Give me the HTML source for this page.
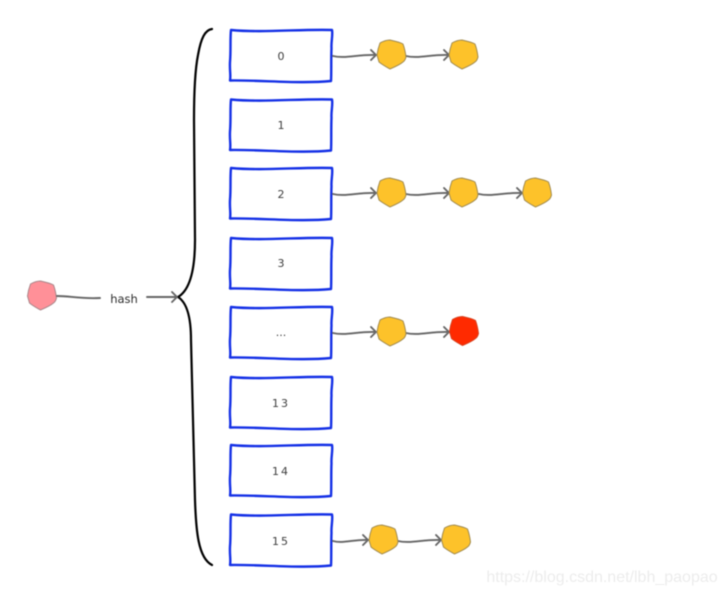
<!DOCTYPE html>
<html>
<head>
<meta charset="utf-8">
<style>
html,body{margin:0;padding:0;background:#fff;width:726px;height:594px;overflow:hidden}
svg{display:block;filter:blur(.4px)}
.b{fill:#fff;stroke:#1430e6;stroke-width:2.4;stroke-linejoin:round;stroke-linecap:round}
.l{fill:none;stroke:#666;stroke-width:1.900;stroke-linecap:round;stroke-linejoin:round}
.n{fill:#fdc22a;stroke:#a08a50;stroke-width:1;stroke-linejoin:round}
.t{font-family:"DejaVu Sans","Liberation Sans",sans-serif;font-size:11px;fill:#3c3c3c;text-anchor:middle}
</style>
</head>
<body>
<svg width="726" height="594" viewBox="0 0 726 594" xmlns="http://www.w3.org/2000/svg">
<defs>
<path id="box" d="M231 0 C262 3 300 -1 332 0 C333 5 331 12 331.500 18 C331 30 331.500 42 331 51 C300 54 262 50 230 50.500 C231 46 229.500 40 230 32 C231 20 230 8 231 0 Z"/>
<path id="arrow" d="M0 0 C12 3 26 -2 43 -1 M38 -6 L43 -1 L38 4"/>
<path id="arrow2" d="M0 0 C10 3 22 -2 35 -1 M30 -6 L35 -1 L30 4"/>
<path id="node" d="M-11.500 -12 C-8 -14 -4 -15 -1.500 -15 C3 -14 8 -13 11.500 -11 C13 -7 14 -2 14.500 2 C14 4 13 6 11.500 7 C8 10 3 12 -1.500 14 C-5 12 -9 10 -12.500 7 C-13 5 -14 2 -14.500 0 C-14 -4 -13 -8 -11.500 -12 Z"/>
</defs>

<use href="#box" class="b" y="30"/>
<use href="#box" class="b" y="99.500"/>
<use href="#box" class="b" y="168"/>
<use href="#box" class="b" y="238"/>
<use href="#box" class="b" y="307"/>
<use href="#box" class="b" y="377"/>
<use href="#box" class="b" y="445"/>
<use href="#box" class="b" y="514.500"/>

<text class="t" x="281" y="60">0</text>
<text class="t" x="281" y="129">1</text>
<text class="t" x="281" y="198">2</text>
<text class="t" x="281" y="267">3</text>
<text class="t" x="281" y="336">...</text>
<text class="t" x="281" y="407" letter-spacing="2">13</text>
<text class="t" x="281" y="475" letter-spacing="2">14</text>
<text class="t" x="281" y="545" letter-spacing="2">15</text>

<path d="M212 29 C205 30 201 38 198 55 C195 70 194 90 194 120 L195 240 C195 270 190 290 178 297 C186 302 191 315 191 340 L195 500 C196 530 198 558 212 565" fill="none" stroke="#000" stroke-width="2.200" stroke-linecap="round"/>

<use href="#arrow" class="l" x="333" y="56"/>
<use href="#arrow" class="l" x="406" y="56"/>
<use href="#node" class="n" x="391.500" y="55"/>
<use href="#node" class="n" x="463.500" y="55"/>

<use href="#arrow" class="l" x="333" y="194"/>
<use href="#arrow" class="l" x="406" y="194"/>
<use href="#arrow" class="l" x="479" y="194"/>
<use href="#node" class="n" x="391.500" y="193"/>
<use href="#node" class="n" x="463.500" y="193"/>
<use href="#node" class="n" x="537" y="193"/>

<use href="#arrow" class="l" x="333" y="333"/>
<use href="#arrow" class="l" x="406" y="333"/>
<use href="#node" class="n" x="391.500" y="332"/>
<use href="#node" x="464" y="331.500" fill="#ff2a00" stroke="#d8401c"/>

<use href="#arrow2" class="l" x="333" y="541"/>
<use href="#arrow" class="l" x="398" y="541"/>
<use href="#node" class="n" x="383.500" y="540"/>
<use href="#node" class="n" x="456" y="540"/>

<use href="#node" x="42" y="296" fill="#ff9098" stroke="#a8868a"/>
<path class="l" d="M57 296 C70 296 80 299 100 298"/>
<text x="124" y="303" font-family="'DejaVu Sans','Liberation Sans',sans-serif" font-size="11.500" fill="#2c2c2c" text-anchor="middle">hash</text>
<path class="l" d="M147 297 L177 297 M172 292 L177 297 L172 302"/>

<text x="602" y="582" font-family="'Liberation Sans',sans-serif" font-size="16" fill="#ececec" text-anchor="middle">https://blog.csdn.net/lbh_paopao</text>
</svg>
</body>
</html>
